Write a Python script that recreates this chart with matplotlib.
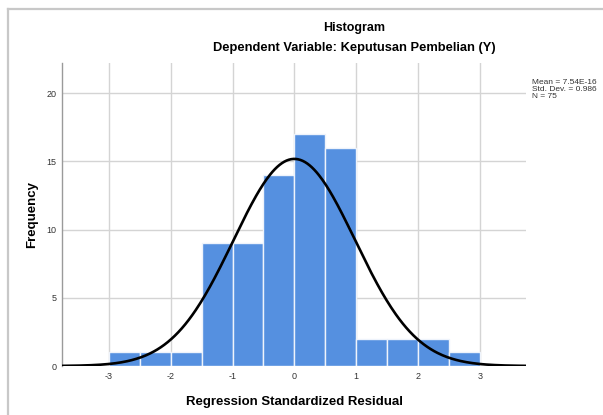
import numpy as np
import matplotlib.pyplot as plt
from matplotlib.lines import Line2D

# histogram of residuals (bin width 0.5)
bin_edges = [-3.0, -2.5, -2.0, -1.5, -1.0, -0.5, 0.0, 0.5, 1.0, 1.5, 2.0, 2.5, 3.0]
counts = [1, 1, 1, 9, 9, 14, 17, 16, 2, 2, 2, 1]
mean = 7.54e-16
std = 0.986
n = 75
xticks = [-3, -2, -1, 0, 1, 2, 3]
yticks = [0, 5, 10, 15, 20]

plt.rcParams['font.family'] = ['Liberation Sans', 'DejaVu Sans']

fig = plt.figure(figsize=(6.03, 4.15), dpi=100)
W, H = 603, 415
ax = fig.add_axes([62 / W, 49 / H, (526 - 62) / W, (366 - 63) / H])

lefts = np.array(bin_edges[:-1])
widths = np.diff(bin_edges)
ax.bar(lefts, counts, width=widths, align='edge', color='#5590e0',
       edgecolor='#eef3fb', linewidth=1.0, zorder=2)

# normal curve scaled to counts
xs = np.linspace(-3.76, 3.75, 400)
bw = widths[0]
ys = n * bw * np.exp(-0.5 * ((xs - mean) / std) ** 2) / (std * np.sqrt(2 * np.pi))
ax.plot(xs, ys, color='black', linewidth=1.9, zorder=3, solid_capstyle='butt')

ax.set_xlim(-3.76, 3.75)
ax.set_ylim(0, 22.2)
ax.set_xticks(xticks)
ax.set_yticks(yticks)
ax.set_xticklabels([str(t) for t in xticks])
ax.grid(True, color='#d4d4d4', linewidth=1.0, zorder=0)
ax.set_axisbelow(True)
for s in ['top', 'right', 'bottom']:
    ax.spines[s].set_visible(False)
ax.spines['left'].set_color('#9a9a9a')
ax.spines['left'].set_linewidth(1.0)
ax.tick_params(axis='x', length=0, labelsize=6.5, colors='#333333', pad=4)
ax.tick_params(axis='y', length=0, labelsize=6.5, colors='#333333', pad=4)

ax.set_xlabel('Regression Standardized Residual', fontsize=9.5, fontweight='bold', labelpad=11)
ax.set_ylabel('Frequency', fontsize=9.5, fontweight='bold', labelpad=6)

fig.text(354 / W, 1 - 28 / H, 'Histogram', ha='center', va='center', fontsize=9, fontweight='bold')
fig.text(354 / W, 1 - 48 / H, 'Dependent Variable: Keputusan Pembelian (Y)', ha='center', va='center',
         fontsize=9.3, fontweight='bold')

fig.text(532 / W, 1 - 79 / H, 'Mean = 7.54E-16\nStd. Dev. = 0.986\nN = 75', ha='left', va='top',
         fontsize=6, color='#333333', linespacing=0.95)

# outer frame
fig.add_artist(Line2D([8 / W, 1], [1 - 9.5 / H, 1 - 9.5 / H], color='#c8c8c8', linewidth=1.6))
fig.add_artist(Line2D([8 / W, 8 / W], [0, 1 - 9.5 / H], color='#c8c8c8', linewidth=1.6))

fig.savefig('out.png', dpi=100)
